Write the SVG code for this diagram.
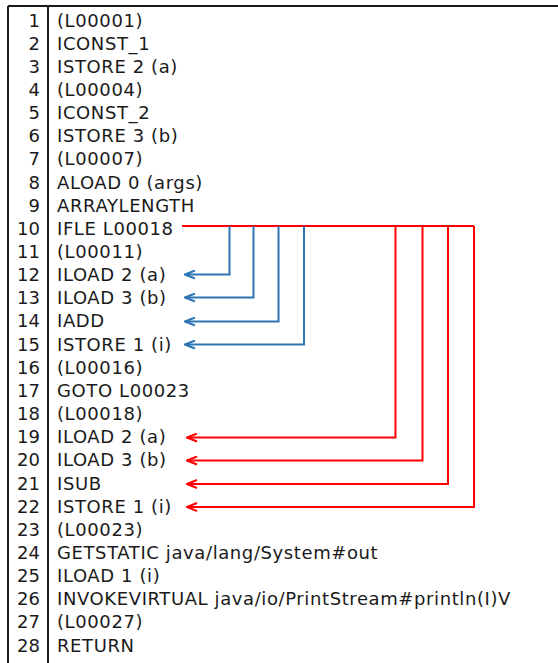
<svg xmlns="http://www.w3.org/2000/svg" width="558" height="663" viewBox="0 0 558 663">
<style>
text{font-family:"DejaVu Sans",Verdana,sans-serif;font-size:18px;fill:#1a1a1a;letter-spacing:0.6px}
.n{text-anchor:end;letter-spacing:0}
.frame{stroke:#1a1a1a;stroke-width:2;fill:none}
.blue{stroke:#2E75B6;stroke-width:2;fill:none}
.red{stroke:#FF0000;stroke-width:2;fill:none}
</style>
<defs>
<marker id="ab" viewBox="0 0 12 10" refX="11" refY="5" markerWidth="12" markerHeight="10" markerUnits="userSpaceOnUse" orient="auto"><path d="M1,1 L11,5 L1,9" fill="none" stroke="#2E75B6" stroke-width="2"/></marker>
<marker id="ar" viewBox="0 0 12 10" refX="11" refY="5" markerWidth="12" markerHeight="10" markerUnits="userSpaceOnUse" orient="auto"><path d="M1,1 L11,5 L1,9" fill="none" stroke="#FF0000" stroke-width="2"/></marker>
</defs>
<g id="frame">
<path class="frame" d="M8,6 H558 M8,6 V663 M48,6 V663"/>
</g>
<g id="lines">
<text class="n" x="40" y="26.5">1</text><text x="57" y="26.5">(L00001)</text>
<text class="n" x="40" y="49.65">2</text><text x="57" y="49.65">ICONST_1</text>
<text class="n" x="40" y="72.8">3</text><text x="57" y="72.8">ISTORE 2 (a)</text>
<text class="n" x="40" y="95.95">4</text><text x="57" y="95.95">(L00004)</text>
<text class="n" x="40" y="119.1">5</text><text x="57" y="119.1">ICONST_2</text>
<text class="n" x="40" y="142.25">6</text><text x="57" y="142.25">ISTORE 3 (b)</text>
<text class="n" x="40" y="165.4">7</text><text x="57" y="165.4">(L00007)</text>
<text class="n" x="40" y="188.55">8</text><text x="57" y="188.55">ALOAD 0 (args)</text>
<text class="n" x="40" y="211.7">9</text><text x="57" y="211.7">ARRAYLENGTH</text>
<text class="n" x="40" y="234.85">10</text><text x="57" y="234.85">IFLE L00018</text>
<text class="n" x="40" y="258">11</text><text x="57" y="258">(L00011)</text>
<text class="n" x="40" y="281.15">12</text><text x="57" y="281.15">ILOAD 2 (a)</text>
<text class="n" x="40" y="304.3">13</text><text x="57" y="304.3">ILOAD 3 (b)</text>
<text class="n" x="40" y="327.45">14</text><text x="57" y="327.45">IADD</text>
<text class="n" x="40" y="350.6">15</text><text x="57" y="350.6">ISTORE 1 (i)</text>
<text class="n" x="40" y="373.75">16</text><text x="57" y="373.75">(L00016)</text>
<text class="n" x="40" y="396.9">17</text><text x="57" y="396.9">GOTO L00023</text>
<text class="n" x="40" y="420.05">18</text><text x="57" y="420.05">(L00018)</text>
<text class="n" x="40" y="443.2">19</text><text x="57" y="443.2">ILOAD 2 (a)</text>
<text class="n" x="40" y="466.35">20</text><text x="57" y="466.35">ILOAD 3 (b)</text>
<text class="n" x="40" y="489.5">21</text><text x="57" y="489.5">ISUB</text>
<text class="n" x="40" y="512.65">22</text><text x="57" y="512.65">ISTORE 1 (i)</text>
<text class="n" x="40" y="535.8">23</text><text x="57" y="535.8">(L00023)</text>
<text class="n" x="40" y="558.95">24</text><text x="57" y="558.95">GETSTATIC java/lang/System#out</text>
<text class="n" x="40" y="582.1">25</text><text x="57" y="582.1">ILOAD 1 (i)</text>
<text class="n" x="40" y="605.25">26</text><text x="57" y="605.25">INVOKEVIRTUAL java/io/PrintStream#println(I)V</text>
<text class="n" x="40" y="628.4">27</text><text x="57" y="628.4">(L00027)</text>
<text class="n" x="40" y="651.55">28</text><text x="57" y="651.55">RETURN</text>
</g>
<g id="connectors">
<path class="red" d="M182,226 H474"/>
<path class="blue" marker-end="url(#ab)" d="M229.5,226 V274.5 H185"/>
<path class="blue" marker-end="url(#ab)" d="M253.5,226 V297.5 H185"/>
<path class="blue" marker-end="url(#ab)" d="M278.5,226 V321.5 H185"/>
<path class="blue" marker-end="url(#ab)" d="M304,226 V344.5 H185"/>
<path class="red" marker-end="url(#ar)" d="M395.5,226 V437.5 H187"/>
<path class="red" marker-end="url(#ar)" d="M422.5,226 V460.5 H187"/>
<path class="red" marker-end="url(#ar)" d="M448,226 V484 H187"/>
<path class="red" marker-end="url(#ar)" d="M474,226 V507 H187"/>
</g>
</svg>
